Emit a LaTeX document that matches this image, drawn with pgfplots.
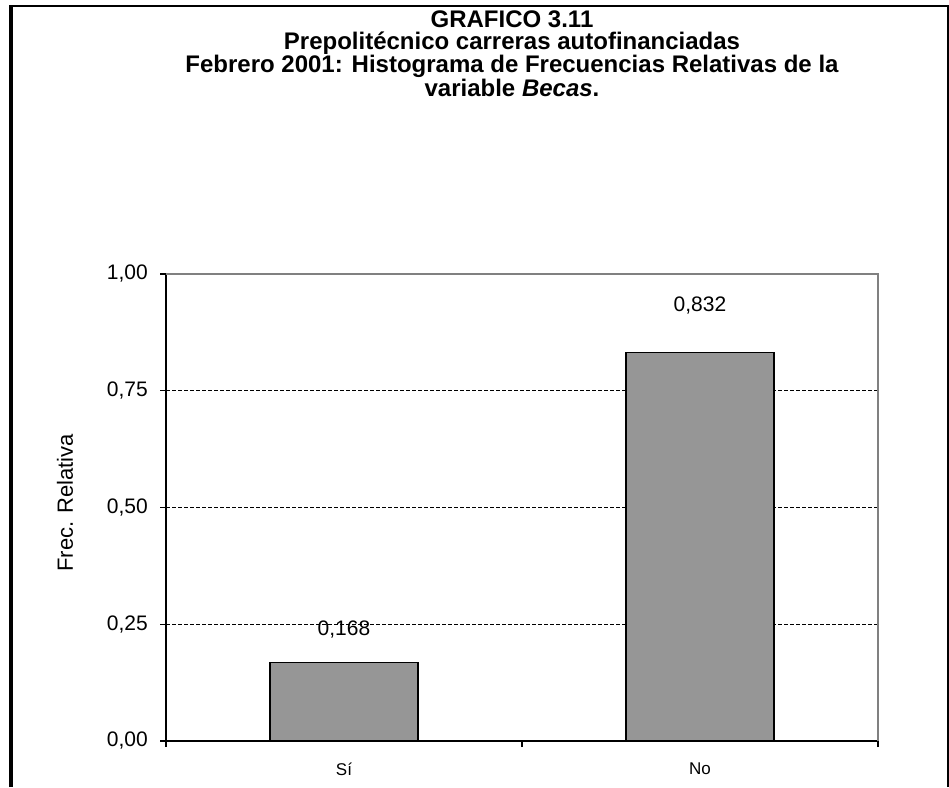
\documentclass[border=0pt]{standalone}
\usepackage{pgfplots}
\pgfplotsset{compat=1.18}
\usepackage{fontspec}
\setmainfont{Liberation Sans}
\definecolor{barfill}{RGB}{150,150,150}
\definecolor{boxgray}{RGB}{128,128,128}
\begin{document}
\begin{tikzpicture}[x=1pt,y=1pt]
\useasboundingbox (0,0) rectangle (949,787);
% outer frame
\draw[line width=4pt] (11.3,0) -- (11.3,782.1);
\draw[line width=2.3pt] (9.3,781) -- (949,781);
\draw[line width=2pt] (948,0) -- (948,782);
% title
\begin{scope}[every node/.style={anchor=base, inner sep=0pt, font=\fontsize{24}{24}\selectfont\bfseries}]
\node at (512,759.3) {GRAFICO 3.11};
\node at (512,737.0) {Prepolitécnico carreras autofinanciadas};
\node at (512,714.0) {Febrero 2001: Histograma de Frecuencias Relativas de la};
\node at (512,690.5) {variable \textit{Becas}.};
\end{scope}
\begin{axis}[
  at={(166pt,46pt)}, anchor=south west,
  scale only axis, width=712pt, height=467pt,
  xmin=0, xmax=2, ymin=0, ymax=1,
  axis x line=bottom, axis y line=left,
  axis line style={line width=2pt, -},
  tick align=outside, major tick length=6pt,
  tick style={line width=1.5pt, black},
  xtick={0,1,2}, xticklabels={},
  extra x ticks={0.5,1.5}, extra x tick labels={Sí,No},
  extra x tick style={major tick length=0pt, xticklabel style={font=\fontsize{17}{17}\selectfont, yshift=-18pt}},
  ytick={0,0.25,0.5,0.75,1},
  yticklabel style={font=\fontsize{21}{21}\selectfont, inner sep=0pt, xshift=-12pt,
    /pgf/number format/fixed, /pgf/number format/fixed zerofill,
    /pgf/number format/precision=2, /pgf/number format/use comma,
    /pgf/number format/assume math mode=true},
  ymajorgrids,
  grid style={line width=1pt, black, dash pattern=on 4pt off 2pt},
  ylabel={Frec. Relativa},
  ylabel style={font=\fontsize{22}{22}\selectfont, at={(axis description cs:-0.142,0.51)}, anchor=center},
  clip=false,
]
\addplot[ybar, bar width=148pt, bar shift=0pt, fill=barfill, draw=black, line width=1.5pt,
  nodes near coords={\pgfmathprintnumber[fixed,fixed zerofill,precision=3,use comma,assume math mode=true]{\pgfplotspointmeta}},
  every node near coord/.append style={font=\fontsize{21}{21}\selectfont, anchor=south, inner sep=0pt, yshift=24pt, text=black}]
  coordinates {(0.5,0.168)};
\addplot[ybar, bar width=148pt, bar shift=0pt, fill=barfill, draw=black, line width=1.5pt,
  nodes near coords={\pgfmathprintnumber[fixed,fixed zerofill,precision=3,use comma,assume math mode=true]{\pgfplotspointmeta}},
  every node near coord/.append style={font=\fontsize{21}{21}\selectfont, anchor=south, inner sep=0pt, yshift=38pt, text=black}]
  coordinates {(1.5,0.832)};
\draw[line width=1.5pt, boxgray] (rel axis cs:0,1) -- (rel axis cs:1,1) -- (rel axis cs:1,0);
\end{axis}
\end{tikzpicture}
\end{document}
